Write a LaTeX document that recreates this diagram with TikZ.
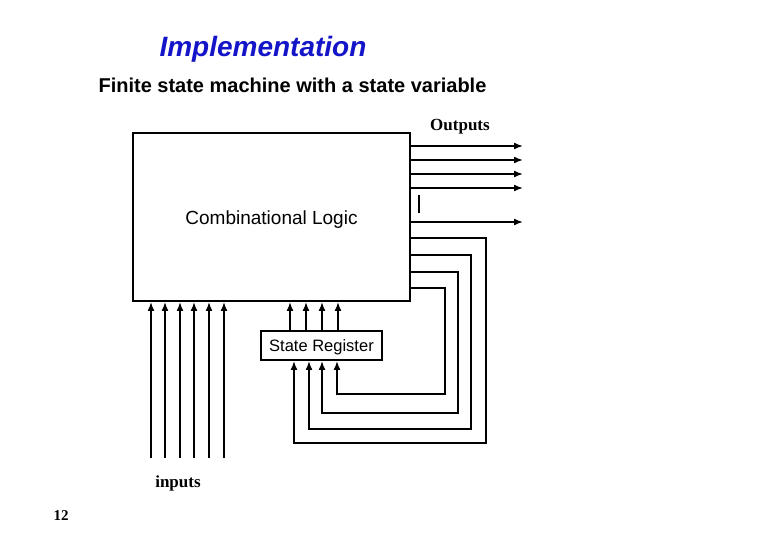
\documentclass[tikz,border=0pt]{standalone}
\usepackage{fontspec}
\setmainfont{Liberation Serif}
\setsansfont{Liberation Sans}
\usetikzlibrary{arrows.meta, positioning}
\definecolor{titleblue}{RGB}{20,20,200}

\begin{document}
\begin{tikzpicture}[
      x=1pt, y=-1pt,
      block/.style={draw, line width=2pt, inner sep=0pt, font=\sffamily},
      wire/.style={line width=1.5pt},
      sig/.style={wire, -{Latex[length=9pt, width=7pt]}},
      label/.style={font=\bfseries\fontsize{17}{20}\selectfont}
    ]
    \useasboundingbox (0,0) rectangle (780,540);
    % headings
    \node[font=\sffamily\bfseries\itshape\fontsize{28}{32}\selectfont, text=titleblue] (title) at (263,49) {Implementation};
    \node[font=\sffamily\bfseries\fontsize{20}{24}\selectfont] (subtitle) at (292.5,85) {Finite state machine with a state variable};
    % blocks
    \node[block, minimum width=277pt, minimum height=168pt] (logic) at (271.5,217)
      {\fontsize{19}{22}\selectfont\raisebox{-2.5pt}[\height][\depth]{Combinational Logic}};
    \node[block, minimum width=121pt, minimum height=29pt] (reg) at (321.5,345.5)
      {\fontsize{16.5}{19}\selectfont\raisebox{-2pt}[\height][\depth]{State Register}};
    \node[label] (outlabel) at (460,127) {Outputs};
    \node[label] (inlabel) at (178,483) {inputs};
    \node[font=\bfseries\fontsize{15}{18}\selectfont] (page) at (61,516) {12};
    % outputs
    \foreach \yy [count=\i] in {146,160,174,188,222} {
      \coordinate (out\i) at (523,\yy);
      \draw[sig] (logic.east |- out\i) -- (out\i);
    }
    \draw[wire] (419,195) -- (419,213);
    % inputs
    \foreach \xx [count=\i] in {151,165,180,194,209,224} {
      \coordinate (in\i) at (\xx,458);
      \draw[sig] (in\i) -- (in\i |- logic.south);
    }
    % register to logic
    \foreach \xx in {290,306,322,338}
      \draw[sig] (\xx,0 |- reg.north) -- (\xx,0 |- logic.south);
    % feedback
    \foreach \yy/\xr/\yb/\xl in {238/486/443/294, 255/471/429/309, 272/458/413/322, 288/445/394/337}
      \draw[sig] (logic.east |- 0,\yy) -- (\xr,\yy) -- (\xr,\yb) -| (\xl,0 |- reg.south);
\end{tikzpicture}
\end{document}
